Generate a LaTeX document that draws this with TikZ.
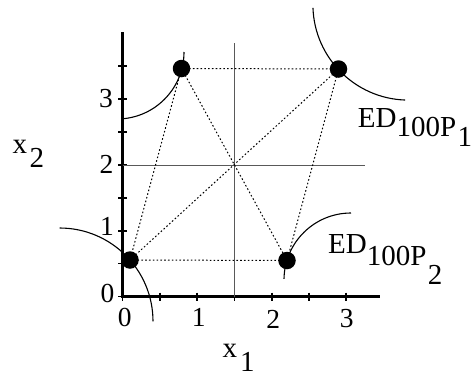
\documentclass[tikz,border=0pt]{standalone}
\usepackage{fontspec}
\setmainfont{Liberation Serif}
\begin{document}
\begin{tikzpicture}[x=1pt,y=-1pt,
  axis/.style={line width=2.6pt},
  tck/.style={line width=1.8pt},
  gridline/.style={line width=0.9pt, black!65},
  dotline/.style={line width=1pt, dash pattern=on 1.6pt off 2.2pt},
  curve/.style={line width=1.1pt},
  dot/.style={circle, fill=black, inner sep=0pt, minimum size=17.5pt},
  lbl/.style={font=\fontsize{27.5}{27.5}\selectfont, inner sep=0pt},
  txt/.style={font=\fontsize{29}{29}\selectfont, inner sep=0pt, anchor=base west}]
\useasboundingbox (0,0) rectangle (475,381);
% axes
\coordinate (o) at (122.5,296.5);
\coordinate (ytop) at (122.5,32);
\coordinate (xend) at (380,296.5);
\draw[axis] (ytop) -- (o) -- (xend);
\foreach \k in {0,...,7} \draw[tck] (118,{296.5-32.95*\k}) -- (127,{296.5-32.95*\k});
\foreach \k in {0,...,6} \draw[tck] ({122.5+37.3*\k},292.5) -- ({122.5+37.3*\k},300.5);
% grid lines
\coordinate (vtop) at (234,43);
\coordinate (vbot) at (234,296.5);
\coordinate (hl) at (122.5,165);
\coordinate (hr) at (365,165);
\draw[gridline] (vtop) -- (vbot);
\draw[gridline] (hl) -- (hr);
% points
\coordinate (ptl) at (181.5,68.5);
\coordinate (ptr) at (338.5,69);
\coordinate (pbl) at (130,260);
\coordinate (pbr) at (287,260.5);
\draw[dotline] (ptl) -- (ptr);
\draw[dotline] (pbl) -- (pbr);
\draw[dotline] (ptl) -- (pbl);
\draw[dotline] (ptr) -- (pbr);
\draw[dotline] (ptl) -- (pbr);
\draw[dotline] (ptr) -- (pbl);
% curves
\coordinate (ctl) at (117,52);
\coordinate (ctr) at (408.5,4.5);
\coordinate (cbl) at (59.6,321.4);
\coordinate (cbr) at (351,280);
\draw[curve] ([shift={(85:67)}]ctl) arc[start angle=85,end angle=0,radius=67];
\draw[curve] ([shift={(178:95.6)}]ctr) arc[start angle=178,end angle=92,radius=95.6];
\draw[curve] ([shift={(270:93.4)}]cbl) arc[start angle=270,end angle=360,radius=93.4];
\draw[curve] ([shift={(181:67)}]cbr) arc[start angle=181,end angle=270,radius=67];
\node[dot] (tl) at (ptl) {};
\node[dot] (tr) at (ptr) {};
\node[dot] (bl) at (pbl) {};
\node[dot] (br) at (pbr) {};
% tick labels
\node[lbl] (y3) at (106,98.5) {3};
\node[lbl] (y2) at (106.5,164) {2};
\node[lbl] (y1) at (107,226.7) {1};
\node[lbl] (y0) at (107.5,293) {0};
\node[lbl] (x0) at (124.7,317.5) {0};
\node[lbl] (x1) at (198.7,317.5) {1};
\node[lbl] (x2) at (273.3,319) {2};
\node[lbl] (x3) at (346.7,319) {3};
% axis and curve labels
\node[txt] (xtwo) at (12.5,153) {x\hspace{2.5pt}\raisebox{-14pt}{2}};
\node[txt] (xone) at (222.5,357) {x\hspace{3pt}\raisebox{-14pt}{1}};
\node[txt] (ed1) at (357.7,127.3) {ED\raisebox{-9.4pt}{100P\hspace{1.5pt}\raisebox{-10pt}{1}}};
\node[txt] (ed2) at (328,253.3) {ED\raisebox{-11.7pt}{100P\hspace{1.5pt}\raisebox{-19pt}{2}}};
\end{tikzpicture}
\end{document}
